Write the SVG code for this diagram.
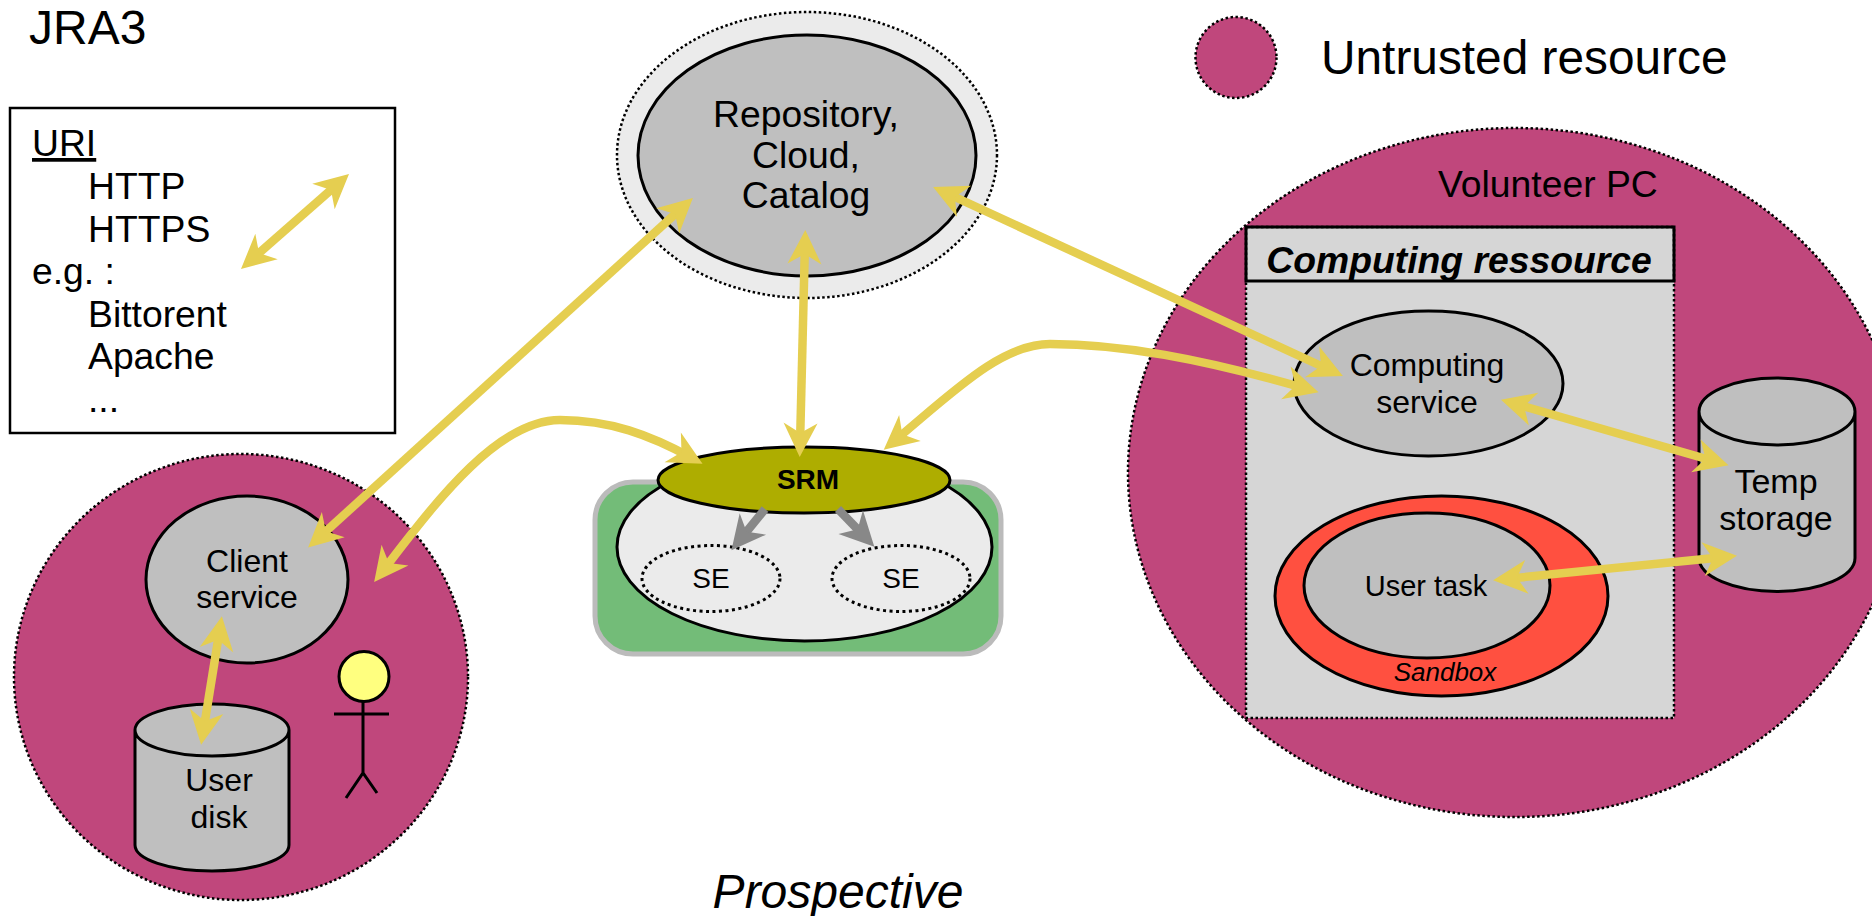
<svg xmlns="http://www.w3.org/2000/svg" width="1872" height="916" viewBox="0 0 1872 916">
<style>
text{font-family:"Liberation Sans",Arial,sans-serif;fill:#000}
.m{text-anchor:middle}
.s36{font-size:37.3px}.s32{font-size:32px}.s28{font-size:28px}.s48{font-size:48px}
.node{fill:#BFBFBF;stroke:#000;stroke-width:3}
.untrusted{fill:#C0477C;stroke:#000;stroke-width:2.5;stroke-dasharray:2.5 2.5}
.stick{fill:none;stroke:#000;stroke-width:3}
.ya{fill:none;stroke:#E5CE50;stroke-width:8.5;marker-start:url(#yh);marker-end:url(#yh)}
.ga{fill:none;stroke:#888;stroke-width:8.5;marker-end:url(#gh)}
</style>
<defs>
<marker id="yh" markerUnits="userSpaceOnUse" markerWidth="40" markerHeight="40" refX="24" refY="20" orient="auto-start-reverse" overflow="visible"><path d="M36,20L2,3L12,20L2,37Z" fill="#E5CE50"/></marker>
<marker id="gh" markerUnits="userSpaceOnUse" markerWidth="40" markerHeight="40" refX="24" refY="20" orient="auto" overflow="visible"><path d="M36,20L2,3L12,20L2,37Z" fill="#888"/></marker>
</defs>
<rect width="1872" height="916" fill="#fff"/>
<g id="title"><text x="29" y="44" class="s48">JRA3</text></g>
<g id="prospective"><text x="838" y="908" class="s48 m" font-style="italic">Prospective</text></g>
<g id="legend-uri">
<rect x="10" y="108" width="385" height="325" fill="#fff" stroke="#000" stroke-width="2.5"/>
<text x="32" y="156" class="s36" text-decoration="underline">URI</text>
<text x="88" y="199" class="s36">HTTP</text>
<text x="88" y="242" class="s36">HTTPS</text>
<text x="32" y="284" class="s36">e.g. :</text>
<text x="88" y="327" class="s36">Bittorent</text>
<text x="88" y="369" class="s36">Apache</text>
<text x="88" y="412" class="s36">...</text>
</g>
<g id="legend-untrusted">
<circle cx="1236" cy="57.5" r="40.5" class="untrusted"/>
<text x="1321" y="74" font-size="47.8">Untrusted resource</text>
</g>
<g id="client-machine"><ellipse cx="241" cy="677" rx="227" ry="223" class="untrusted"/></g>
<g id="client-service"><ellipse cx="247" cy="579.5" rx="101" ry="83.5" class="node"/>
<text x="247" y="572" class="s32 m">Client</text><text x="247" y="608" class="s32 m">service</text></g>
<g id="user-disk"><path class="node" d="M135,730V845A77,26 0 0 0 289,845V730A77,26 0 0 0 135,730A77,26 0 0 0 289,730"/>
<text x="219" y="791" class="s32 m">User</text><text x="219" y="828" class="s32 m">disk</text></g>
<g id="user"><circle cx="364" cy="676.5" r="25" fill="#FFFF7F" stroke="#000" stroke-width="3"/>
<path class="stick" d="M363,702V773M334,714H389M346,798L363,773L377,793"/></g>
<g id="repository"><ellipse cx="807" cy="155" rx="190" ry="143" fill="#EBEBEB" stroke="#000" stroke-width="2.5" stroke-dasharray="2.5 2.5"/>
<ellipse cx="807" cy="155.5" rx="169" ry="120.5" class="node"/>
<text x="806" y="127" class="s36 m">Repository,</text><text x="806" y="168" class="s36 m">Cloud,</text><text x="806" y="208" class="s36 m">Catalog</text></g>
<g id="storage"><rect x="595" y="482" width="406" height="172" rx="38" fill="#73BC78" stroke="#BBB" stroke-width="5"/>
<ellipse cx="804.5" cy="547" rx="187.5" ry="94" fill="#EBEBEB" stroke="#000" stroke-width="3"/></g>
<g id="se1"><ellipse cx="711" cy="578.5" rx="69" ry="33" fill="none" stroke="#000" stroke-width="3" stroke-dasharray="3 3.5"/><text x="711" y="588" class="s28 m">SE</text></g>
<g id="se2"><ellipse cx="901" cy="578.5" rx="69" ry="33" fill="none" stroke="#000" stroke-width="3" stroke-dasharray="3 3.5"/><text x="901" y="588" class="s28 m">SE</text></g>
<g id="srm"><ellipse cx="804" cy="480" rx="146" ry="33" fill="#AEAD00" stroke="#000" stroke-width="3"/><text x="808" y="489" class="s28 m" font-weight="bold">SRM</text></g>
<g id="volunteer-pc"><ellipse cx="1515" cy="472.5" rx="387" ry="344.5" class="untrusted"/><text x="1438" y="197" class="s36">Volunteer PC</text></g>
<g id="computing-resource"><rect x="1246" y="227" width="428" height="491" fill="#D6D6D6" stroke="#000" stroke-width="2.5" stroke-dasharray="2.5 2.5"/>
<rect x="1246" y="227" width="428" height="54" fill="none" stroke="#000" stroke-width="3"/>
<text x="1459" y="273" class="s36 m" font-weight="bold" font-style="italic">Computing ressource</text></g>
<g id="computing-service"><ellipse cx="1428.5" cy="383.5" rx="134.5" ry="72.5" class="node"/>
<text x="1427" y="376" class="s32 m">Computing</text><text x="1427" y="413" class="s32 m">service</text></g>
<g id="sandbox"><ellipse cx="1441.5" cy="596" rx="166.5" ry="100" fill="#FF5040" stroke="#000" stroke-width="3"/>
<text x="1445" y="681" font-size="26" class="m" font-style="italic">Sandbox</text></g>
<g id="user-task"><ellipse cx="1427" cy="585.5" rx="123" ry="72.5" class="node"/><text x="1426" y="596" font-size="29" class="m">User task</text></g>
<g id="temp-storage"><path class="node" d="M1699,411.5V558A78,33.5 0 0 0 1855,558V411.5A78,33.5 0 0 0 1699,411.5A78,33.5 0 0 0 1855,411.5"/>
<text x="1776" y="493" font-size="34" class="m">Temp</text><text x="1776" y="530" font-size="34" class="m">storage</text></g>
<g id="connectors">
<path class="ya" d="M250,261L340,182"/>
<path class="ya" d="M317,539.4L684,206"/>
<path class="ya" d="M381.5,572.5C430,510 495,420 560,420C610,420 650,435 692,458"/>
<path class="ya" d="M805,242L800,445"/>
<path class="ya" d="M944,192L1332,371"/>
<path class="ya" d="M893,442C950,395 1000,344 1050,344C1120,344 1200,358 1307,389"/>
<path class="ya" d="M1512.5,403L1717,462"/>
<path class="ya" d="M1505,579L1725,557"/>
<path class="ya" d="M220,628L203,733"/>
<path class="ga" d="M765,509L739,541"/>
<path class="ga" d="M838,509L866,538"/>
</g>
</svg>
